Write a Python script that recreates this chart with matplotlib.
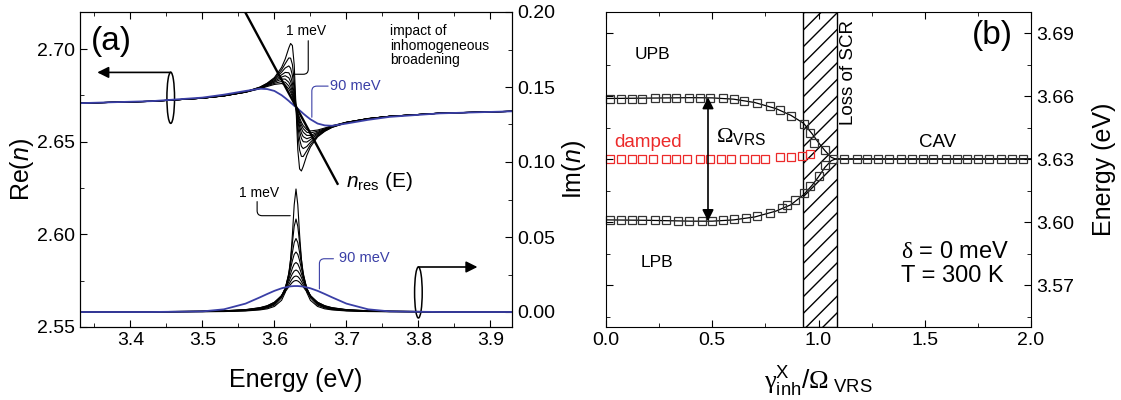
import matplotlib
matplotlib.use("Agg")
import matplotlib.pyplot as plt
from matplotlib.patches import Ellipse, Rectangle
from matplotlib.ticker import MultipleLocator

plt.rcParams['font.family'] = ['Liberation Sans', 'DejaVu Sans']
plt.rcParams['mathtext.fontset'] = 'custom'
plt.rcParams['mathtext.rm'] = 'Liberation Sans'
plt.rcParams['mathtext.it'] = 'Liberation Sans:italic'
plt.rcParams['mathtext.sf'] = 'Liberation Serif'
plt.rcParams['xtick.direction'] = 'in'
plt.rcParams['ytick.direction'] = 'in'

# ---- panel (a): refractive index vs energy ----
energy = [3.33, 3.43, 3.50, 3.53, 3.56, 3.58, 3.59, 3.60, 3.61, 3.615, 3.62, 3.6225, 3.625, 3.6275, 3.63,
          3.6325, 3.635, 3.6375, 3.64, 3.645, 3.65, 3.66, 3.67, 3.68, 3.70, 3.73, 3.76, 3.83, 3.93]

# Re(n), from 1 meV (sharpest) to broader inhomogeneous widths
re_w1 = [2.6708, 2.6718, 2.6735, 2.6748, 2.6770, 2.6795, 2.6816, 2.6846, 2.6901, 2.6946, 2.7006, 2.7030, 2.7019, 2.6916, 2.6686,
         2.6456, 2.6353, 2.6342, 2.6366, 2.6426, 2.6471, 2.6526, 2.6556, 2.6577, 2.6602, 2.6624, 2.6637, 2.6654, 2.6664]
re_w2 = [2.6708, 2.6718, 2.6735, 2.6748, 2.6769, 2.6794, 2.6814, 2.6841, 2.6888, 2.6921, 2.6952, 2.6951, 2.6917, 2.6829, 2.6686,
         2.6543, 2.6455, 2.6421, 2.6420, 2.6451, 2.6484, 2.6531, 2.6558, 2.6578, 2.6603, 2.6624, 2.6637, 2.6654, 2.6664]
re_w3 = [2.6708, 2.6718, 2.6735, 2.6748, 2.6769, 2.6793, 2.6811, 2.6837, 2.6875, 2.6898, 2.6909, 2.6897, 2.6858, 2.6786, 2.6686,
         2.6586, 2.6514, 2.6475, 2.6463, 2.6474, 2.6497, 2.6535, 2.6561, 2.6579, 2.6603, 2.6624, 2.6637, 2.6654, 2.6664]
re_w4 = [2.6708, 2.6718, 2.6735, 2.6747, 2.6768, 2.6791, 2.6808, 2.6831, 2.6861, 2.6874, 2.6872, 2.6854, 2.6816, 2.6759, 2.6686,
         2.6613, 2.6556, 2.6518, 2.6500, 2.6498, 2.6511, 2.6541, 2.6564, 2.6581, 2.6604, 2.6625, 2.6637, 2.6654, 2.6664]
re_w5 = [2.6708, 2.6718, 2.6735, 2.6747, 2.6768, 2.6790, 2.6807, 2.6826, 2.6849, 2.6856, 2.6845, 2.6825, 2.6790, 2.6743, 2.6686,
         2.6629, 2.6582, 2.6547, 2.6527, 2.6516, 2.6523, 2.6546, 2.6565, 2.6582, 2.6604, 2.6625, 2.6637, 2.6654, 2.6664]
re_w6 = [2.6708, 2.6718, 2.6735, 2.6748, 2.6768, 2.6789, 2.6805, 2.6821, 2.6838, 2.6838, 2.6821, 2.6801, 2.6770, 2.6731, 2.6686,
         2.6641, 2.6602, 2.6571, 2.6551, 2.6534, 2.6534, 2.6551, 2.6567, 2.6583, 2.6604, 2.6624, 2.6637, 2.6654, 2.6664]
re_w7 = [2.6708, 2.6718, 2.6735, 2.6748, 2.6767, 2.6788, 2.6802, 2.6815, 2.6825, 2.6821, 2.6801, 2.6782, 2.6755, 2.6722, 2.6686,
         2.6650, 2.6617, 2.6590, 2.6571, 2.6551, 2.6547, 2.6557, 2.6570, 2.6584, 2.6605, 2.6624, 2.6637, 2.6654, 2.6664]
re_w8 = [2.6708, 2.6718, 2.6735, 2.6748, 2.6767, 2.6786, 2.6798, 2.6809, 2.6814, 2.6807, 2.6785, 2.6767, 2.6743, 2.6716, 2.6686,
         2.6656, 2.6629, 2.6605, 2.6587, 2.6565, 2.6558, 2.6563, 2.6574, 2.6586, 2.6605, 2.6624, 2.6637, 2.6654, 2.6664]
re_90meV = [2.6708, 2.6719, 2.6738, 2.6754, 2.6774, 2.6786, 2.6784, 2.6774, 2.6751, 2.6736, 2.6720, 2.6711, 2.6703, 2.6694, 2.6686,
            2.6678, 2.6669, 2.6661, 2.6652, 2.6636, 2.6621, 2.6598, 2.6588, 2.6586, 2.6598, 2.6618, 2.6634, 2.6653, 2.6664]

# Im(n), same widths
im_w1 = [0.0000, 0.0001, 0.0002, 0.0003, 0.0007, 0.0014, 0.0021, 0.0037, 0.0078, 0.0130, 0.0244, 0.0352, 0.0515, 0.0714, 0.0820,
         0.0714, 0.0515, 0.0352, 0.0244, 0.0130, 0.0078, 0.0037, 0.0021, 0.0014, 0.0007, 0.0003, 0.0002, 0.0001, 0.0000]
im_w2 = [0.0000, 0.0001, 0.0003, 0.0004, 0.0009, 0.0017, 0.0027, 0.0046, 0.0095, 0.0151, 0.0260, 0.0349, 0.0461, 0.0571, 0.0620,
         0.0571, 0.0461, 0.0349, 0.0260, 0.0151, 0.0095, 0.0046, 0.0027, 0.0017, 0.0009, 0.0004, 0.0003, 0.0001, 0.0000]
im_w3 = [0.0001, 0.0001, 0.0003, 0.0005, 0.0010, 0.0020, 0.0031, 0.0052, 0.0103, 0.0157, 0.0252, 0.0320, 0.0397, 0.0463, 0.0490,
         0.0463, 0.0397, 0.0320, 0.0252, 0.0157, 0.0103, 0.0052, 0.0031, 0.0020, 0.0010, 0.0005, 0.0003, 0.0001, 0.0001]
im_w4 = [0.0001, 0.0001, 0.0004, 0.0006, 0.0012, 0.0023, 0.0034, 0.0057, 0.0109, 0.0159, 0.0239, 0.0290, 0.0343, 0.0384, 0.0400,
         0.0384, 0.0343, 0.0290, 0.0239, 0.0159, 0.0109, 0.0057, 0.0034, 0.0023, 0.0012, 0.0006, 0.0004, 0.0001, 0.0001]
im_w5 = [0.0001, 0.0002, 0.0004, 0.0006, 0.0013, 0.0024, 0.0036, 0.0059, 0.0109, 0.0154, 0.0219, 0.0256, 0.0293, 0.0320, 0.0330,
         0.0320, 0.0293, 0.0256, 0.0219, 0.0154, 0.0109, 0.0059, 0.0036, 0.0024, 0.0013, 0.0006, 0.0004, 0.0002, 0.0001]
im_w6 = [0.0001, 0.0002, 0.0004, 0.0007, 0.0014, 0.0026, 0.0039, 0.0062, 0.0109, 0.0149, 0.0201, 0.0230, 0.0255, 0.0273, 0.0280,
         0.0273, 0.0255, 0.0230, 0.0201, 0.0149, 0.0109, 0.0062, 0.0039, 0.0026, 0.0014, 0.0007, 0.0004, 0.0002, 0.0001]
im_w7 = [0.0001, 0.0002, 0.0005, 0.0008, 0.0015, 0.0028, 0.0040, 0.0064, 0.0107, 0.0142, 0.0183, 0.0204, 0.0223, 0.0236, 0.0240,
         0.0236, 0.0223, 0.0204, 0.0183, 0.0142, 0.0107, 0.0064, 0.0040, 0.0028, 0.0015, 0.0008, 0.0005, 0.0002, 0.0001]
im_w8 = [0.0001, 0.0002, 0.0005, 0.0008, 0.0016, 0.0029, 0.0042, 0.0065, 0.0105, 0.0134, 0.0168, 0.0184, 0.0198, 0.0207, 0.0210,
         0.0207, 0.0198, 0.0184, 0.0168, 0.0134, 0.0105, 0.0065, 0.0042, 0.0029, 0.0016, 0.0008, 0.0005, 0.0002, 0.0001]
im_90meV = [0.0000, 0.0000, 0.0004, 0.0018, 0.0056, 0.0098, 0.0120, 0.0141, 0.0158, 0.0164, 0.0169, 0.0171, 0.0172, 0.0173, 0.0173,
            0.0173, 0.0172, 0.0171, 0.0169, 0.0164, 0.0158, 0.0141, 0.0120, 0.0098, 0.0056, 0.0018, 0.0004, 0.0000, 0.0000]

re_black = [re_w1, re_w2, re_w3, re_w4, re_w5, re_w6, re_w7, re_w8]
im_black = [im_w1, im_w2, im_w3, im_w4, im_w5, im_w6, im_w7, im_w8]

# straight n_res(E) line
nres_e = [3.5593, 3.6877]
nres_n = [2.72, 2.6273]

# ---- panel (b): polariton energies vs gamma_inh / Omega_VRS ----
upb_x = [0.02, 0.07, 0.12, 0.17, 0.23, 0.28, 0.33, 0.39, 0.44, 0.49, 0.55, 0.60, 0.65, 0.71, 0.77, 0.82, 0.87, 0.93, 0.96, 0.98, 1.03]
upb_e = [3.6588, 3.6587, 3.6587, 3.6587, 3.6592, 3.6592, 3.6592, 3.6592, 3.6592, 3.6591, 3.6589, 3.6584, 3.6576, 3.6566,
         3.6553, 3.6532, 3.6506, 3.6469, 3.6424, 3.6377, 3.6342]
lpb_x = [0.02, 0.07, 0.12, 0.17, 0.23, 0.28, 0.34, 0.39, 0.45, 0.50, 0.55, 0.60, 0.66, 0.71, 0.77, 0.83, 0.85, 0.89, 0.93, 0.96,
         1.00, 1.03]
lpb_e = [3.6010, 3.6010, 3.6010, 3.6010, 3.6010, 3.6008, 3.6003, 3.6003, 3.6003, 3.6003, 3.6008, 3.6012, 3.6018, 3.6028,
         3.6042, 3.6066, 3.6082, 3.6105, 3.6138, 3.6170, 3.6220, 3.6272]
cav_x = [1.07, 1.12, 1.18, 1.23, 1.28, 1.33, 1.39, 1.44, 1.49, 1.54, 1.60, 1.65, 1.70, 1.75, 1.80, 1.86, 1.91, 1.96]
cav_e = [3.630] * len(cav_x)
damped_x = [0.02, 0.07, 0.12, 0.17, 0.22, 0.28, 0.33, 0.38, 0.44, 0.49, 0.54, 0.59, 0.65, 0.70, 0.75, 0.82, 0.87, 0.92, 0.96]
damped_e = [3.6300, 3.6300, 3.6300, 3.6300, 3.6300, 3.6300, 3.6300, 3.6300, 3.6300, 3.6300, 3.6300, 3.6300, 3.6300,
            3.6300, 3.6300, 3.6311, 3.6311, 3.6314, 3.6322]
fit_x = [0.0, 0.2, 0.4, 0.5, 0.6, 0.7, 0.8, 0.87, 0.93, 0.97, 1.0, 1.03, 1.06, 1.08, 2.0]
fit_up = [3.6588, 3.6590, 3.6592, 3.6591, 3.6585, 3.6569, 3.6540, 3.6508, 3.6470, 3.6420, 3.6378, 3.6340, 3.6308, 3.6300, 3.6300]
fit_lo = [3.6010, 3.6008, 3.6004, 3.6004, 3.6010, 3.6024, 3.6052, 3.6082, 3.6130, 3.6175, 3.6215, 3.6260, 3.6292, 3.6300, 3.6300]
scr_lo, scr_hi = 0.925, 1.085

blue = '#3a3fa6'
red = '#ec2a2a'

fig = plt.figure(figsize=(11.21, 4.0), dpi=100)
W, H = 1121.0, 400.0
ax = fig.add_axes([80 / W, 1 - 327 / H, 432 / W, 315 / H])
ax2 = ax.twinx()
bx = fig.add_axes([606 / W, 1 - 327 / H, 425 / W, 315 / H])

# panel (a) curves
for re in re_black:
    ax.plot(energy, re, color='k', lw=0.8)
ax.plot(energy, re_90meV, color=blue, lw=1.3)
ax.plot(nres_e, nres_n, color='k', lw=1.7)
for im in im_black:
    ax2.plot(energy, im, color='k', lw=0.8)
ax2.plot(energy, im_90meV, color=blue, lw=1.3)

ax.set_xlim(3.33, 3.93)
ax.set_ylim(2.55, 2.72)
ax2.set_ylim(-0.01, 0.20)
ax.xaxis.set_major_locator(MultipleLocator(0.1))
ax.xaxis.set_minor_locator(MultipleLocator(0.05))
ax.yaxis.set_major_locator(MultipleLocator(0.05))
ax.yaxis.set_minor_locator(MultipleLocator(0.025))
ax2.yaxis.set_major_locator(MultipleLocator(0.05))
ax2.yaxis.set_minor_locator(MultipleLocator(0.025))
ax.xaxis.set_major_formatter(plt.FormatStrFormatter('%.1f'))
ax.yaxis.set_major_formatter(plt.FormatStrFormatter('%.2f'))
ax2.yaxis.set_major_formatter(plt.FormatStrFormatter('%.2f'))
ax.tick_params(which='both', top=True, labelsize=14)
ax.tick_params(which='major', length=5)
ax.tick_params(which='minor', length=3)
ax2.tick_params(which='major', length=5, labelsize=14)
ax2.tick_params(which='minor', length=3)
ax.set_xlabel('Energy (eV)', fontsize=18)
ax.set_ylabel('Re($n$)', fontsize=18)
ax2.set_ylabel('Im($n$)', fontsize=18)
ax.xaxis.set_label_coords(0.5, -0.13)
ax.yaxis.set_label_coords(-0.102, 0.5)
ax2.yaxis.set_label_coords(1.111, 0.5)

ax.text(0.025, 0.955, '(a)', transform=ax.transAxes, fontsize=24, va='top')
ax.text(3.644, 2.7097, '1 meV', fontsize=10, ha='center', va='center')
ax.annotate('', xy=(3.628, 2.6864), xytext=(3.647, 2.7045),
            arrowprops=dict(arrowstyle='-', lw=0.8, shrinkA=0, shrinkB=0,
                            connectionstyle='angle,angleA=90,angleB=0,rad=5'))
ax.text(3.712, 2.68, '90 meV', fontsize=10.5, ha='center', va='center', color=blue)
ax.annotate('', xy=(3.652, 2.6632), xytext=(3.6746, 2.68),
            arrowprops=dict(arrowstyle='-', lw=0.8, color=blue, shrinkA=0, shrinkB=0,
                            connectionstyle='angle,angleA=0,angleB=90,rad=5'))
ax.text(3.761, 2.7135, 'impact of\ninhomogeneous\nbroadening', fontsize=10, ha='left', va='top',
        linespacing=1.05)
ax.text(3.700, 2.6285, r'$n_{\rm res}$ (E)', fontsize=15, ha='left', va='center')

ax2.text(3.579, 0.0793, '1 meV', fontsize=10, ha='center', va='center')
ax2.annotate('', xy=(3.622, 0.0642), xytext=(3.576, 0.0736),
             arrowprops=dict(arrowstyle='-', lw=0.8, shrinkA=0, shrinkB=0,
                             connectionstyle='angle,angleA=90,angleB=0,rad=5'))
ax2.text(3.7245, 0.0358, '90 meV', fontsize=10.5, ha='center', va='center', color=blue)
ax2.annotate('', xy=(3.6625, 0.0154), xytext=(3.682, 0.0355),
             arrowprops=dict(arrowstyle='-', lw=0.8, color=blue, shrinkA=0, shrinkB=0,
                             connectionstyle='angle,angleA=0,angleB=90,rad=5'))

# axis markers: ellipse + arrow pointing to the axis in use
ax.add_patch(Ellipse((3.456, 2.6737), 0.0106, 0.0276, fill=False, lw=1.1, ec='k'))
ax.annotate('', xy=(3.354, 2.6874), xytext=(3.456, 2.6874),
            arrowprops=dict(arrowstyle='-|>', color='k', lw=1.2, mutation_scale=17, shrinkA=0, shrinkB=0))
ax2.add_patch(Ellipse((3.80, 0.013), 0.0106, 0.034, fill=False, lw=1.1, ec='k'))
ax2.annotate('', xy=(3.882, 0.030), xytext=(3.80, 0.030),
             arrowprops=dict(arrowstyle='-|>', color='k', lw=1.2, mutation_scale=17, shrinkA=0, shrinkB=0))

# panel (b)
bx.add_patch(Rectangle((scr_lo, 3.55), scr_hi - scr_lo, 0.15, fill=False, hatch='//', lw=1.0, ec='k'))
bx.plot(fit_x, fit_up, color='k', lw=0.9)
bx.plot(fit_x, fit_lo, color='k', lw=0.9)
sq = dict(ls='none', marker='s', ms=5.5, mfc='none', mew=0.9, clip_on=False)
bx.plot(upb_x, upb_e, mec='#333333', **sq)
bx.plot(lpb_x, lpb_e, mec='#333333', **sq)
bx.plot(cav_x, cav_e, mec='#333333', **sq)
bx.plot(damped_x, damped_e, mec=red, **sq)
bx.annotate('', xy=(0.48, 3.6594), xytext=(0.48, 3.6004),
            arrowprops=dict(arrowstyle='<|-|>', color='k', lw=1.2, mutation_scale=17, shrinkA=0, shrinkB=0))

bx.set_xlim(0, 2.0)
bx.set_ylim(3.55, 3.70)
bx.xaxis.set_major_locator(MultipleLocator(0.5))
bx.xaxis.set_minor_locator(MultipleLocator(0.25))
bx.yaxis.set_major_locator(MultipleLocator(0.03))
bx.yaxis.set_minor_locator(MultipleLocator(0.015))
bx.xaxis.set_major_formatter(plt.FormatStrFormatter('%.1f'))
bx.yaxis.set_major_formatter(plt.FormatStrFormatter('%.2f'))
bx.tick_params(which='both', top=True, left=True, right=True, labelleft=False, labelright=True, labelsize=14)
bx.tick_params(which='major', length=5)
bx.tick_params(which='minor', length=3)
bx.yaxis.set_label_position('right')
bx.set_ylabel('Energy (eV)', fontsize=18)
bx.yaxis.set_label_coords(1.144, 0.5)
bx.set_xlabel(r'$\mathsf{\gamma}^{\rm X}_{\rm inh}/\mathsf{\Omega}_{\ \rm VRS}$', fontsize=19)
bx.xaxis.set_label_coords(0.5, -0.12)

bx.text(1.82, 3.689, '(b)', fontsize=24, ha='center', va='center')
bx.text(0.22, 3.680, 'UPB', fontsize=12.5, ha='center', va='center')
bx.text(0.24, 3.5805, 'LPB', fontsize=12.5, ha='center', va='center')
bx.text(1.56, 3.638, 'CAV', fontsize=13.5, ha='center', va='center')
bx.text(0.20, 3.638, 'damped', fontsize=13.5, ha='center', va='center', color=red)
bx.text(0.52, 3.6405, r'$\mathsf{\Omega}_{\rm VRS}$', fontsize=16, ha='left', va='center')
bx.text(1.14, 3.671, 'Loss of SCR', fontsize=13.5, ha='center', va='center', rotation=90)
bx.text(1.39, 3.5857, r'$\mathsf{\delta}$ = 0 meV', fontsize=17, ha='left', va='center')
bx.text(1.39, 3.5743, 'T = 300 K', fontsize=17, ha='left', va='center')

fig.savefig('out.png', dpi=100)
